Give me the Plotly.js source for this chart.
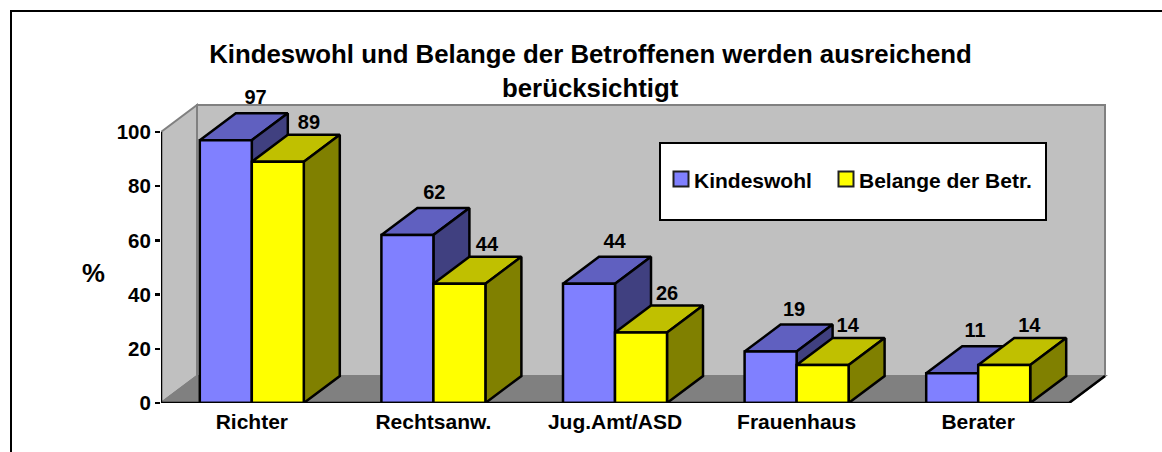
<!DOCTYPE html>
<html>
<head>
<meta charset="utf-8">
<script src="https://cdn.plot.ly/plotly-3.0.1.min.js"></script>
<style>html,body{margin:0;padding:0;background:#fff}</style>
</head>
<body>
<div id="chart" style="width:1162px;height:452px"></div>
<script>
const categories = ["Richter", "Rechtsanw.", "Jug.Amt/ASD", "Frauenhaus", "Berater"];
const kindeswohl = [97, 62, 44, 19, 11];
const belange = [89, 44, 26, 14, 14];
const seriesNames = ["Kindeswohl", "Belange der Betr."];
const yTicks = [0, 20, 40, 60, 80, 100];
const titleLines = ["Kindeswohl und Belange der Betroffenen werden ausreichend", "berücksichtigt"];
const blueShades = {front: '#8080FF', top: '#6060C0', side: '#404080'};
const yellowShades = {front: '#FFFF00', top: '#C0C000', side: '#808000'};

const W = 1162, H = 452;
const M = {l: 161, r: 52, t: 70, b: 49};
const plotW = W - M.l - M.r, plotH = H - M.t - M.b;
const pxX = 908 / 5, pxY = 2.71;             // pixels per data unit on each axis
const barW = 52 / pxX;
const depthX = 36 / pxX, depthY = 27 / pxY;  // oblique projection of the depth
const FONT = '"Liberation Sans", Arial, sans-serif';
const EDGE = 2.5;
const px = v => (v - M.l) / plotW;           // page pixel -> paper x
const py = v => (H - M.b - v) / plotH;       // page pixel -> paper y
const boldFont = size => ({family: FONT, size, color: '#000', weight: 700});

function face(xs, ys, fill, zorder) {
  return {type: 'scatter', mode: 'lines', x: xs, y: ys, fill: 'toself', fillcolor: fill,
    line: {color: '#000', width: EDGE}, hoverinfo: 'skip', showlegend: false, cliponaxis: false, zorder};
}
function boxFaces(values, left, shades, z) {
  const out = [];
  values.forEach((v, i) => {
    const a = i + left, b = a + barW;
    out.push(face([a, a + depthX, b + depthX, b, a], [v, v + depthY, v + depthY, v, v], shades.top, z));
    out.push(face([b, b + depthX, b + depthX, b, b], [0, depthY, v + depthY, v, 0], shades.side, z));
  });
  return out;
}
function frontBar(values, name, color, left, z) {
  return {type: 'bar', name, x: categories.map((_, i) => i), y: values, width: barW, offset: left, showlegend: false,
    marker: {color, line: {color: '#000', width: EDGE}}, hoverinfo: 'skip', zorder: z};
}
function labels(values, left, extra, lift) {
  return {type: 'scatter', mode: 'text', showlegend: false, hoverinfo: 'skip', cliponaxis: false, zorder: 6,
    x: values.map((v, i) => i + left + barW / 2 + (22 + extra + 8 * v / 100) / pxX),
    y: values.map(v => v + depthY + lift / pxY),
    text: values.map(String), textposition: 'middle center',
    textfont: boldFont(20)};
}
const wallTop = 100 + depthY, xa = -0.5, xb = 4.5;
const axisLines = {type: 'scatter', mode: 'lines', x: [xa, xa, xb, xb + depthX], y: [100, 0, 0, depthY],
  line: {color: '#000', width: EDGE}, hoverinfo: 'skip', showlegend: false, cliponaxis: false, zorder: 5};

const traces = [
  ...boxFaces(kindeswohl, -barW, blueShades, 1),
  frontBar(kindeswohl, seriesNames[0], blueShades.front, -barW, 2),
  ...boxFaces(belange, 0, yellowShades, 3),
  frontBar(belange, seriesNames[1], yellowShades.front, 0, 4),
  axisLines,
  labels(kindeswohl, -barW, 0, 14),
  labels(belange, 0, 2, 11)
];

const poly = (pts, fill, lineColor) => ({type: 'path', xref: 'x', yref: 'y', layer: 'below',
  path: 'M' + pts.map(p => p.join(',')).join('L') + 'Z', fillcolor: fill,
  line: {color: lineColor, width: 2}});
const swatch = (x0, color) => ({type: 'rect', xref: 'paper', yref: 'paper', layer: 'above',
  x0: px(x0), x1: px(x0 + 15), y0: py(186.5), y1: py(171.5), fillcolor: color, line: {color: '#202020', width: 2}});
const legendText = (x, text) => ({text, xref: 'paper', yref: 'paper', x: px(x), y: py(180), xanchor: 'left', yanchor: 'middle',
  showarrow: false, borderpad: 0, font: boldFont(21)});

const layout = {
  width: W, height: H, autosize: false,
  margin: M, paper_bgcolor: '#fff', plot_bgcolor: 'rgba(0,0,0,0)',
  font: {family: FONT, color: '#000'},
  barmode: 'overlay',
  showlegend: false,
  title: {text: titleLines[0], font: boldFont(25.8),
    x: 590.5 / W, xanchor: 'center', y: 1 - 54 / H, yanchor: 'middle'},
  xaxis: {range: [xa, xa + plotW / pxX], showgrid: false, zeroline: false, showline: false,
    tickmode: 'array', tickvals: categories.map((_, i) => i), ticktext: categories, ticks: '',
    ticklabelstandoff: 4, tickfont: boldFont(21)},
  yaxis: {range: [0, plotH / pxY], showgrid: false, zeroline: false, showline: false,
    tickmode: 'array', tickvals: yTicks, ticks: 'outside', ticklen: 5, tickwidth: EDGE, tickcolor: '#000',
    tickfont: boldFont(20.5)},
  shapes: [
    poly([[xa, 0], [xa, 100], [xa + depthX, wallTop], [xa + depthX, depthY]], '#C0C0C0', '#808080'),
    poly([[xa + depthX, depthY], [xa + depthX, wallTop], [xb + depthX, wallTop], [xb + depthX, depthY]], '#C0C0C0', '#808080'),
    poly([[xa, 0], [xa + depthX, depthY], [xb + depthX, depthY], [xb, 0]], '#808080', '#808080'),
    {type: 'rect', xref: 'paper', yref: 'paper', layer: 'above', x0: px(660), x1: px(1046), y0: py(220), y1: py(143),
      fillcolor: '#fff', line: {color: '#000', width: 2}},
    swatch(673.5, blueShades.front),
    swatch(838.5, yellowShades.front),
    {type: 'path', xref: 'paper', yref: 'paper', layer: 'above',
      path: `M${px(11)},${py(452)}L${px(11)},${py(11)}L${px(1162)},${py(11)}`, line: {color: '#000', width: 2}}
  ],
  annotations: [
    {text: titleLines[1], xref: 'paper', yref: 'paper', x: px(590.5), y: py(88), xanchor: 'center', yanchor: 'middle',
      showarrow: false, font: boldFont(25.8)},
    {text: '%', xref: 'paper', yref: 'paper', x: px(93), y: py(273), xanchor: 'center', yanchor: 'middle',
      showarrow: false, font: boldFont(25.8)},
    legendText(693, seriesNames[0]),
    legendText(858, seriesNames[1])
  ]
};
Plotly.newPlot('chart', traces, layout, {displayModeBar: false, staticPlot: true});
</script>
</body>
</html>
